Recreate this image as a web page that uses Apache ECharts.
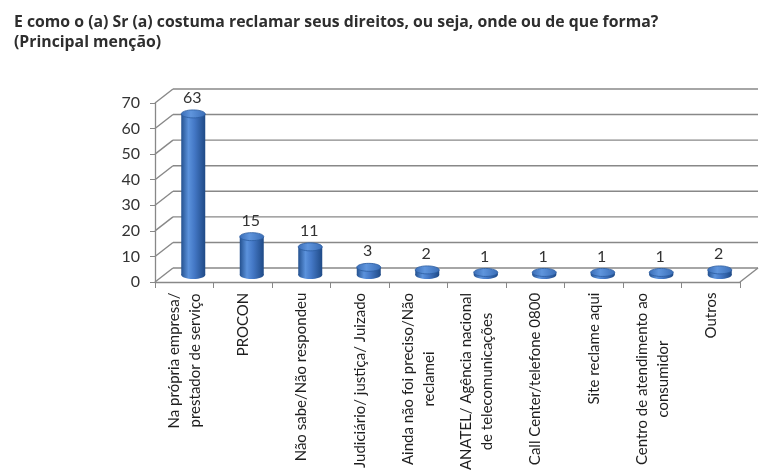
<!DOCTYPE html>
<html><head><meta charset="utf-8">
<script src="https://cdn.jsdelivr.net/npm/echarts@6/dist/echarts.min.js"></script>
<style>html,body{margin:0;padding:0;background:#fff}#c{width:770px;height:475px}</style>
</head><body><div id="c"></div>
<script>
const titleLines = ['E como o (a) Sr (a) costuma reclamar seus direitos, ou seja, onde ou de que forma?', '(Principal menção)'];
const categories = [
  'Na própria empresa/\nprestador de serviço',
  'PROCON',
  'Não sabe/Não respondeu',
  'Judiciário/ justiça/ Juizado',
  'Ainda não foi preciso/Não\nreclamei',
  'ANATEL/ Agência nacional\nde telecomunicações',
  'Call Center/telefone 0800',
  'Site reclame aqui',
  'Centro de atendimento ao\nconsumidor',
  'Outros'
];
const values = [63, 15, 11, 3, 2, 1, 1, 1, 1, 2];
const yTicks = [0, 10, 20, 30, 40, 50, 60, 70];

// 3D-look offsets
const BACK_DX = 18, BACK_DY = 14;
const BAR_DX = 9, BAR_DY = 7;
const LABEL_FONT = 'Lato';
const LABEL_SIZE = 15;

// per-label rich styles so that lines are centered among themselves
const ctx = document.createElement('canvas').getContext('2d');
ctx.font = LABEL_SIZE + 'px ' + LABEL_FONT;
const rich = {};
categories.forEach((c, i) => {
  const w = Math.max(...c.split('\n').map(l => ctx.measureText(l).width));
  rich['c' + i] = { width: Math.ceil(w) + 1, align: 'center', fontSize: LABEL_SIZE, fontFamily: LABEL_FONT, color: '#1e1e1e', lineHeight: 21 };
});

const chart = echarts.init(document.getElementById('c'), null, { renderer: 'canvas' });
const gridColor = '#888888';

chart.setOption({
  animation: false,
  backgroundColor: '#fff',
  title: {
    text: titleLines.join('\n'),
    left: 9, top: 7,
    textStyle: { fontFamily: 'Open Sans', fontWeight: 'bold', fontSize: 15.8, color: '#2e2e2e', lineHeight: 20 }
  },
  grid: { left: 155, right: 30, top: 103, bottom: 193 },
  xAxis: {
    type: 'category',
    data: categories,
    axisLine: { show: true, lineStyle: { color: gridColor, width: 1.3 } },
    axisTick: { show: true, length: 6, interval: 0, lineStyle: { color: gridColor } },
    axisLabel: {
      interval: 0, rotate: 90, margin: 10,
      formatter: (val, idx) => val.split('\n').map(l => '{c' + idx + '|' + l + '}').join('\n'),
      rich: rich
    }
  },
  yAxis: {
    type: 'value', min: 0, max: 70, interval: 10,
    splitLine: { show: false },
    axisLine: { show: true, lineStyle: { color: gridColor, width: 1.3 } },
    axisTick: { show: true, length: 5, lineStyle: { color: gridColor } },
    axisLabel: { margin: 15, fontFamily: 'Lato', fontSize: 16, color: '#333' }
  },
  series: [
    {
      type: 'custom',
      silent: true,
      z: 1,
      data: yTicks.map(v => [0, v]),
      renderItem: (params, api) => {
        const cs = params.coordSys;
        const y = api.coord([0, api.value(1)])[1];
        const x0 = cs.x, x1 = cs.x + cs.width;
        const st = { stroke: gridColor, lineWidth: 1.4 };
        const children = [
          { type: 'line', shape: { x1: x0, y1: y, x2: x0 + BACK_DX, y2: y - BACK_DY }, style: st },
          { type: 'line', shape: { x1: x0 + BACK_DX, y1: y - BACK_DY, x2: x1 + BACK_DX, y2: y - BACK_DY }, style: st }
        ];
        if (api.value(1) === 0) {
          children.push({ type: 'line', shape: { x1: x1, y1: y, x2: x1 + BACK_DX, y2: y - BACK_DY }, style: st });
        }
        return { type: 'group', children };
      }
    },
    {
      type: 'custom',
      z: 5,
      data: values.map((v, i) => [i, v]),
      renderItem: (params, api) => {
        const i = api.value(0), v = api.value(1);
        const top = api.coord([i, v]);
        const base = api.coord([i, 0]);
        const rx = 12, ry = 4;
        const cx = top[0] + BAR_DX;
        const ty = top[1] - BAR_DY;
        const by = base[1] - BAR_DY;
        const bodyFill = new echarts.graphic.LinearGradient(0, 0, 1, 0, [
          { offset: 0, color: '#24518f' },
          { offset: 0.3, color: '#5b92dc' },
          { offset: 0.55, color: '#4478c6' },
          { offset: 1, color: '#1f4a86' }
        ]);
        const topFill = new echarts.graphic.LinearGradient(0, 0, 1, 0, [
          { offset: 0, color: '#3a6db6' },
          { offset: 0.4, color: '#5f95dd' },
          { offset: 1, color: '#3a6db6' }
        ]);
        return {
          type: 'group',
          children: [
            { type: 'ellipse', shape: { cx: cx, cy: by, rx: rx, ry: ry }, style: { fill: bodyFill } },
            { type: 'rect', shape: { x: cx - rx, y: ty, width: rx * 2, height: Math.max(0, by - ty) }, style: { fill: bodyFill } },
            { type: 'ellipse', shape: { cx: cx, cy: ty, rx: rx, ry: ry }, style: { fill: topFill, stroke: '#2b5c9f', lineWidth: 0.8 } },
            { type: 'text', style: { x: cx - 1, y: ty - ry - 4, text: String(v), textAlign: 'center', textVerticalAlign: 'bottom', fontFamily: 'Lato', fontSize: 16, fill: '#333' } }
          ]
        };
      }
    }
  ]
});
</script>
</body></html>
